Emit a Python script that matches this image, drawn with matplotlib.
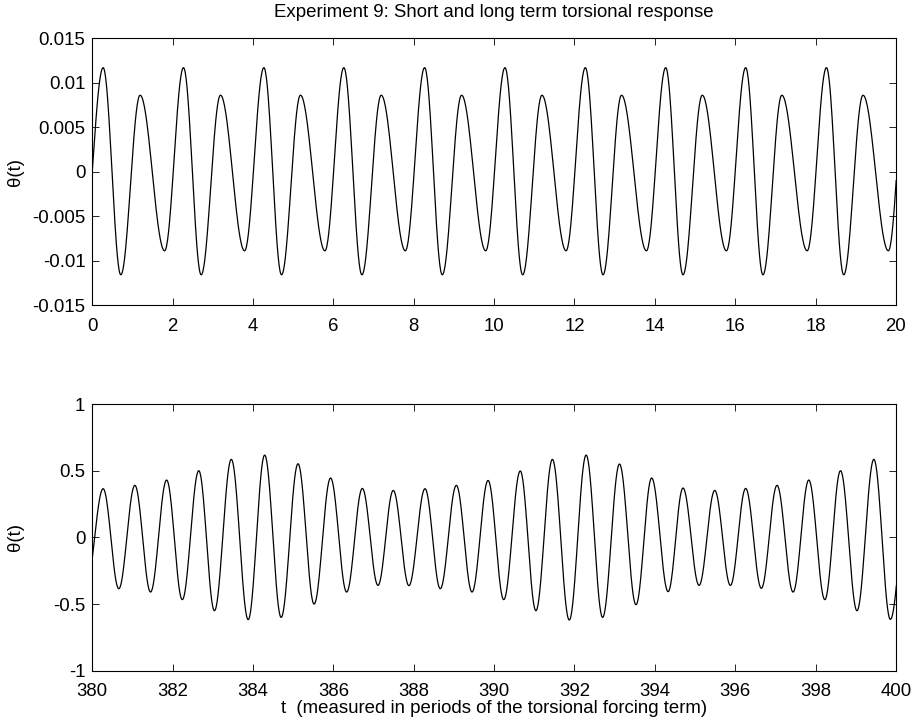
import numpy as np
import matplotlib
matplotlib.use('Agg')
import matplotlib.pyplot as plt

plt.rcParams['font.family'] = ['Liberation Sans', 'DejaVu Sans']

# Extrema (time, value); first/last points sit just
# outside the visible window so the curve enters/leaves at the right height
short_t = [-0.23, 0.27, 0.71, 1.19, 1.80, 2.27, 2.71, 3.19, 3.79, 4.27, 4.71,
           5.18, 5.79, 6.26, 6.71, 7.19, 7.79, 8.27, 8.71, 9.19, 9.79, 10.27,
           10.71, 11.19, 11.79, 12.27, 12.71, 13.17, 13.79, 14.27, 14.70, 15.18,
           15.78, 16.26, 16.69, 17.16, 17.79, 18.27, 18.70, 19.18, 19.81, 20.27]
short_v = [-0.0089, 0.0117, -0.0116, 0.0086, -0.0089, 0.0117, -0.0116, 0.0086,
           -0.0089, 0.0117, -0.0116, 0.0086, -0.0089, 0.0117, -0.0116, 0.0086,
           -0.0089, 0.0117, -0.0116, 0.0086, -0.0089, 0.0117, -0.0116, 0.0086,
           -0.0089, 0.0117, -0.0116, 0.0086, -0.0089, 0.0117, -0.0116, 0.0086,
           -0.0089, 0.0117, -0.0116, 0.0086, -0.0089, 0.0117, -0.0116, 0.0086,
           -0.0089, 0.0117]

long_t = [379.85, 380.27, 380.66, 381.06, 381.45, 381.85, 382.24, 382.65, 383.04,
          383.46, 383.88, 384.29, 384.70, 385.12, 385.52, 385.93, 386.33, 386.72,
          387.11, 387.49, 387.88, 388.28, 388.66, 389.06, 389.45, 389.85, 390.24,
          390.65, 391.04, 391.45, 391.87, 392.29, 392.70, 393.12, 393.53, 393.92,
          394.33, 394.70, 395.10, 395.49, 395.88, 396.26, 396.65, 397.04, 397.44,
          397.83, 398.23, 398.62, 399.03, 399.45, 399.86, 400.36]
long_v = [-0.36, 0.365, -0.385, 0.39, -0.41, 0.43, -0.467, 0.50, -0.55,
          0.585, -0.617, 0.617, -0.60, 0.552, -0.50, 0.445, -0.41, 0.367,
          -0.36, 0.352, -0.362, 0.365, -0.385, 0.39, -0.41, 0.427, -0.467,
          0.498, -0.55, 0.585, -0.62, 0.617, -0.60, 0.55, -0.505, 0.445,
          -0.407, 0.37, -0.36, 0.352, -0.36, 0.367, -0.382, 0.39, -0.41,
          0.43, -0.467, 0.50, -0.55, 0.585, -0.615, 0.617]

short_yticks = [-0.015, -0.01, -0.005, 0, 0.005, 0.01, 0.015]
short_ylabels = ['-0.015', '-0.01', '-0.005', '0', '0.005', '0.01', '0.015']
long_yticks = [-1, -0.5, 0, 0.5, 1]
long_ylabels = ['-1', '-0.5', '0', '0.5', '1']


def smooth(tt, vv, n=40):
    # half-cosine between consecutive extrema
    xs, ys = [], []
    for i in range(len(tt) - 1):
        s = np.linspace(0, 1, n, endpoint=False)
        xs.append(tt[i] + (tt[i + 1] - tt[i]) * s)
        ys.append((vv[i] + vv[i + 1]) / 2 + (vv[i] - vv[i + 1]) / 2 * np.cos(np.pi * s))
    return np.concatenate(xs), np.concatenate(ys)


fig = plt.figure(figsize=(9.11, 7.23), dpi=100)
ax1 = fig.add_axes([0.1013, 0.5781, 0.8822, 0.3689])
ax2 = fig.add_axes([0.1013, 0.0723, 0.8822, 0.3689])

fs = 13.4

x, y = smooth(short_t, short_v)
ax1.plot(x, y, color='black', lw=0.9)
ax1.set_xlim(0, 20)
ax1.set_ylim(-0.015, 0.015)
ax1.set_xticks(range(0, 21, 2))
ax1.set_yticks(short_yticks)
ax1.set_yticklabels(short_ylabels)
ax1.set_ylabel('θ(t)', fontsize=fs)
ax1.set_title('Experiment 9: Short and long term torsional response', fontsize=fs, pad=15)

x, y = smooth(long_t, long_v)
ax2.plot(x, y, color='black', lw=0.9)
ax2.set_xlim(380, 400)
ax2.set_ylim(-1, 1)
ax2.set_xticks(range(380, 401, 2))
ax2.set_yticks(long_yticks)
ax2.set_yticklabels(long_ylabels)
ax2.set_ylabel('θ(t)', fontsize=fs)
ax2.set_xlabel('t  (measured in periods of the torsional forcing term)', fontsize=fs, labelpad=0)

for ax in (ax1, ax2):
    ax.tick_params(direction='in', length=5, width=0.6, top=True, right=True,
                   labelsize=fs)
    ax.tick_params(axis='x', pad=9)
    ax.tick_params(axis='y', pad=5)
    ax.yaxis.set_label_coords(-0.085, 0.5)
    for sp in ax.spines.values():
        sp.set_linewidth(0.8)

fig.savefig('out.png', dpi=100, facecolor='white')
